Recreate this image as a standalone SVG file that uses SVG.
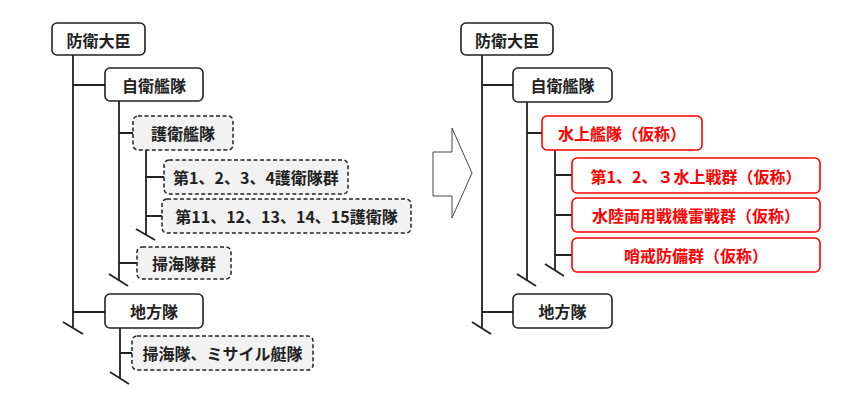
<svg xmlns="http://www.w3.org/2000/svg" width="858" height="405" viewBox="0 0 858 405">
<style>
.box{fill:#fff;stroke:#222;stroke-width:1.6}
.dash{fill:#f2f2f2;stroke:#222;stroke-width:1.5;stroke-dasharray:4 2.5}
.red{fill:#fff;stroke:#ff0000;stroke-width:1.6}
text{font-family:"Noto Sans CJK JP","Noto Sans",sans-serif;font-weight:bold;font-size:16px;text-anchor:middle;dominant-baseline:central;fill:#222}
.rt{fill:#ff0000}
.ln{stroke:#222;stroke-width:1.8;fill:none}
</style>
<rect width="858" height="405" fill="#fff"/>
<g id="connectors" class="ln">
<path d="M73 55V328M63 322L83 334M73 85H105M73 312H105"/>
<path d="M119 101V280M109 274L128 286M119 133H133M119 263H137"/>
<path d="M146 150V235M136 229L155 240M146 177H164M146 216H162"/>
<path d="M120 328V378M110 372L129 384M120 353H132"/>
<path d="M482 55V328M472 322L491 334M482 85H513M482 312H513"/>
<path d="M527 102V280M517 274L536 286M527 133H542"/>
<path d="M555 150V270M545 264L564 276M555 175H572M555 215H572M555 255H572"/>
</g>
<g id="arrow"><polygon points="433,152 452,152 452,128 472,173 452,218 452,196 433,196" fill="#fff" stroke="#444" stroke-width="1"/></g>
<g id="l-minister"><rect class="box" x="52" y="23" width="93" height="32" rx="5"/><text x="98.5" y="39.5">防衛大臣</text></g>
<g id="l-fleet"><rect class="box" x="105" y="68" width="98" height="33" rx="5"/><text x="154" y="85">自衛艦隊</text></g>
<g id="l-escort"><rect class="dash" x="133" y="116" width="100" height="34" rx="5"/><text x="183" y="133">護衛艦隊</text></g>
<g id="l-escort-groups"><rect class="dash" x="164" y="160" width="184" height="34" rx="5"/><text x="256" y="177">第1、2、3、4護衛隊群</text></g>
<g id="l-escort-divs"><rect class="dash" x="162" y="199" width="249" height="34" rx="5"/><text x="286.5" y="216">第11、12、13、14、15護衛隊</text></g>
<g id="l-mine"><rect class="dash" x="137" y="247" width="94" height="32" rx="5"/><text x="184" y="263">掃海隊群</text></g>
<g id="l-district"><rect class="box" x="105" y="294" width="98" height="34" rx="5"/><text x="154" y="311">地方隊</text></g>
<g id="l-district-units"><rect class="dash" x="132" y="336" width="181" height="34" rx="5"/><text x="222.5" y="353">掃海隊、ミサイル艇隊</text></g>
<g id="r-minister"><rect class="box" x="461" y="23" width="92" height="32" rx="5"/><text x="507" y="39.5">防衛大臣</text></g>
<g id="r-fleet"><rect class="box" x="513" y="68" width="99" height="34" rx="5"/><text x="562.5" y="85">自衛艦隊</text></g>
<g id="r-surface"><rect class="red" x="542" y="116" width="160" height="34" rx="5"/><text class="rt" x="622" y="133">水上艦隊（仮称）</text></g>
<g id="r-surface-groups"><rect class="red" x="572" y="158" width="248" height="35" rx="5"/><text class="rt" x="696" y="175.5">第1、2、３水上戦群（仮称）</text></g>
<g id="r-amphib"><rect class="red" x="572" y="198" width="248" height="34" rx="5"/><text class="rt" x="696" y="215">水陸両用戦機雷戦群（仮称）</text></g>
<g id="r-patrol"><rect class="red" x="572" y="238" width="248" height="34" rx="5"/><text class="rt" x="696" y="255">哨戒防備群（仮称）</text></g>
<g id="r-district"><rect class="box" x="513" y="294" width="99" height="34" rx="5"/><text x="562.5" y="311">地方隊</text></g>
</svg>
